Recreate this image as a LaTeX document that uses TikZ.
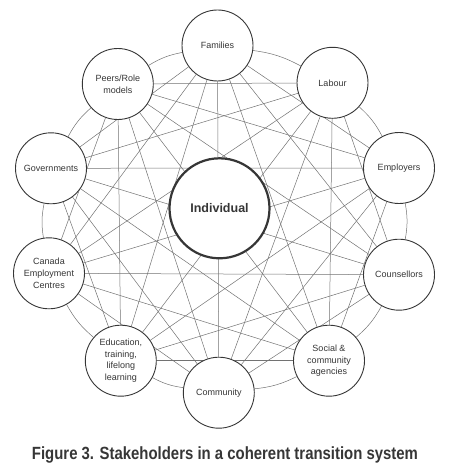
\documentclass[tikz,border=0pt]{standalone}
\usepackage{fontspec}
\setmainfont{Liberation Sans}
\usetikzlibrary{backgrounds}
\definecolor{ink}{HTML}{363636}
\definecolor{wire}{HTML}{727272}
\begin{document}
\begin{tikzpicture}[x=1pt,y=-1pt,
  stake/.style={circle,draw=ink,line width=0.9pt,fill=white,minimum size=71pt,inner sep=0pt,align=center,font=\fontsize{9}{11.6}\selectfont,text=ink},
  hub/.style={circle,draw=ink,line width=2.2pt,fill=white,minimum size=100pt,inner sep=0pt,font=\fontsize{12.5}{14}\selectfont\bfseries,text=ink},
  link/.style={draw=wire,line width=0.5pt},
  ring/.style={draw=wire,line width=0.5pt,bend left=10}]
\useasboundingbox (0,0) rectangle (450,468);
\node[stake] (fam)  at (217.5,45.5) {Families};
\node[stake] (lab)  at (332.5,82.8) {Labour};
\node[stake] (emp)  at (399,168) {Employers};
\node[stake] (cou)  at (399,274.7) {Counsellors};
\node[stake] (soc)  at (329,360.7) {Social \&\\community\\agencies};
\node[stake] (com)  at (218.8,392.7) {Community};
\node[stake] (edu)  at (120.8,360.7) {Education,\\training,\\lifelong\\learning};
\node[stake] (can)  at (49,273.3) {Canada\\Employment\\Centres};
\node[stake] (gov)  at (51,168.3) {Governments};
\node[stake] (peer) at (117.8,84) {Peers/Role\\models};
\begin{scope}[on background layer]
\foreach \a/\b in {fam/emp,fam/cou,fam/soc,fam/com,fam/edu,fam/can,fam/gov,
  lab/cou,lab/soc,lab/com,lab/edu,lab/can,lab/gov,lab/peer,
  emp/soc,emp/com,emp/edu,emp/can,emp/gov,emp/peer,
  cou/com,cou/edu,cou/can,cou/gov,cou/peer,
  soc/edu,soc/can,soc/gov,soc/peer,
  com/can,com/gov,com/peer,
  edu/gov,edu/peer,
  can/peer}
  \draw[link] (\a) -- (\b);
\foreach \a/\b in {fam/lab,lab/emp,emp/cou,cou/soc,soc/com,com/edu,edu/can,can/gov,gov/peer,peer/fam}
  \draw[ring] (\a) to (\b);
\end{scope}
\node[hub] (ind) at (219.5,208.3) {Individual};
\node[anchor=base,inner sep=0pt,text=ink] (cap) at (225,459) {\resizebox{386pt}{12.8pt}{\bfseries Figure 3. Stakeholders in a coherent transition system}};
\end{tikzpicture}
\end{document}
